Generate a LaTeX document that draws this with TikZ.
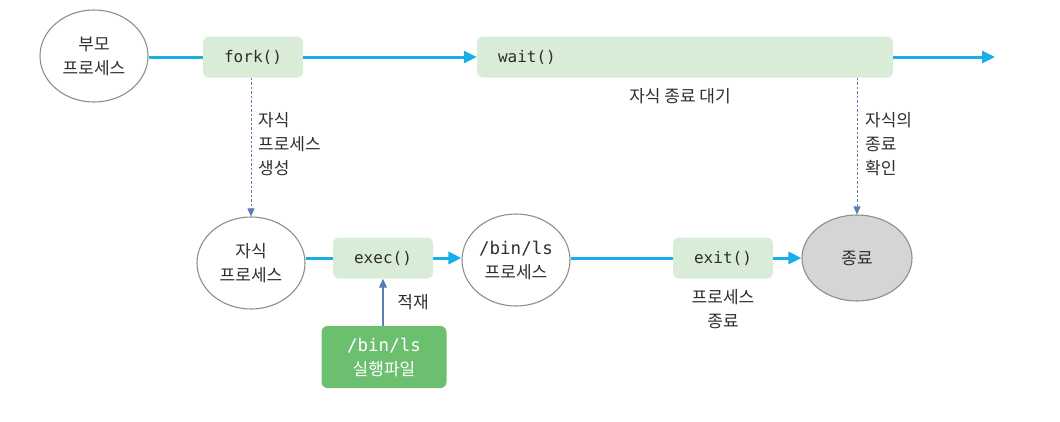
\documentclass[tikz,border=0pt]{standalone}
\usepackage{fontspec}
\setmainfont{Noto Sans CJK KR}
\newfontfamily\codefont{DejaVu Sans Mono}
\usetikzlibrary{arrows.meta,shapes.geometric}
\definecolor{flow}{HTML}{19AEE8}
\definecolor{dsh}{HTML}{5A80B0}
\definecolor{lgreen}{HTML}{D9ECD7}
\definecolor{dgreen}{HTML}{6CBF6F}
\definecolor{ellgray}{HTML}{8E8E8E}
\definecolor{endfill}{HTML}{D5D5D7}
\definecolor{txt}{HTML}{2E2E2E}
\tikzset{
  kr/.style={font=\fontsize{17}{24}\selectfont, text=txt},
  code/.style={font=\codefont\fontsize{16}{24}\selectfont, text=txt},
  ell/.style={ellipse, draw=ellgray, line width=1.1pt, fill=white, inner sep=0pt,
    minimum width=108pt, minimum height=92pt, align=center, kr},
  fbox/.style={rectangle, rounded corners=6pt, fill=lgreen, draw=none,
    minimum width=100pt, minimum height=41pt, inner sep=0pt, code},
  flowline/.style={line width=3pt, draw=flow},
  flowarrow/.style={flowline, -{Triangle[length=13pt,width=12pt]}},
  dashline/.style={draw=dsh, line width=0.8pt, dash pattern=on 2.5pt off 2pt,
    -{Triangle[length=8pt,width=7pt]}},
  loadline/.style={draw=dsh, line width=1.1pt, -{Triangle[length=9pt,width=8pt]}},
  lbl/.style={kr, align=left, anchor=north west, inner sep=0pt},
}
\begin{document}
\begin{tikzpicture}[x=1pt,y=-1pt]
\useasboundingbox (0,0) rectangle (1060,421);
% top row
\node[ell] (parent) at (94,56) {부모\\프로세스};
\node[fbox] (fork) at (253,57) {fork()};
\node[fbox, minimum width=416pt] (wait) at (685,57) {};
\node[code, anchor=west, inner sep=0pt] (waittxt) at ([xshift=21pt]wait.west) {wait()};
\coordinate (topend) at (995,57);
\node[kr] (waitlbl) at (680,96) {자식 종료 대기};
% bottom row
\node[ell] (child) at (251,263) {자식\\프로세스};
\node[fbox] (exec) at (383,258) {exec()};
\node[ell] (binls) at (516,260) {{\codefont\fontsize{17.5}{24}\selectfont /bin/ls}\\프로세스};
\node[fbox] (exit) at (723,258) {exit()};
\node[ell, fill=endfill, minimum width=110pt, minimum height=86pt] (term) at (857,258) {종료};
\node[rectangle, rounded corners=6pt, fill=dgreen, minimum width=125pt, minimum height=62pt,
  inner sep=0pt, align=center, text=white, font=\fontsize{17}{24}\selectfont] (file) at (384,357)
  {{\codefont\fontsize{17.5}{24}\selectfont /bin/ls}\\실행파일};
% labels
\node[lbl] (forklbl) at (258,112) {자식\\프로세스\\생성};
\node[lbl] (waitchk) at (865,112) {자식의\\종료\\확인};
\node[kr] (loadlbl) at (413,302) {적재};
\node[kr, align=center] (exitlbl) at (723,309) {프로세스\\종료};
% flow lines
\draw[flowline] (parent.east |- fork.west) -- (fork.west);
\draw[flowarrow] (fork.east) -- (wait.west);
\draw[flowarrow] (wait.east) -- (topend);
\draw[flowline] (child.east |- exec.west) -- (exec.west);
\draw[flowarrow] (exec.east) -- (binls.west |- exec.east);
\draw[flowline] (binls.east |- exit.west) -- (exit.west);
\draw[flowarrow] (exit.east) -- (term.west);
% dashed
\draw[dashline] (child.north |- fork.south) -- (child.north);
\draw[dashline] (term.north |- wait.south) -- (term.north);
% load
\draw[loadline] (file.north -| exec.south) -- (exec.south);
\end{tikzpicture}
\end{document}
